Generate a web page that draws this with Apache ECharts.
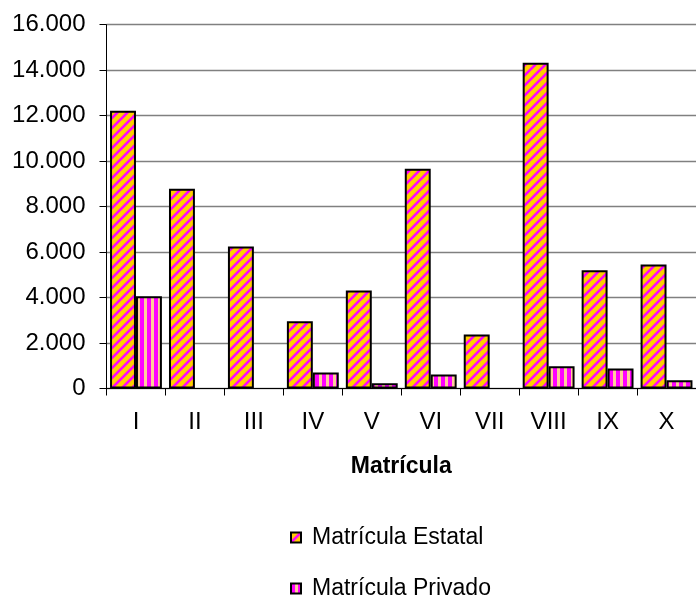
<!DOCTYPE html>
<html>
<head>
<meta charset="utf-8">
<script src="https://cdn.jsdelivr.net/npm/echarts@6/dist/echarts.min.js"></script>
<style>
  html, body { margin: 0; padding: 0; background: #fff; }
  #chart { width: 696px; height: 597px; }
</style>
</head>
<body>
<div id="chart"></div>
<script>
  var categories = ["I", "II", "III", "IV", "V", "VI", "VII", "VIII", "IX", "X"];
  var estatal = [12220, 8790, 6240, 2960, 4310, 9670, 2370, 14330, 5200, 5450];
  var privado = [4060, 0, 0, 700, 230, 620, 0, 980, 880, 360];
  var seriesNames = ["Matrícula Estatal", "Matrícula Privado"];

  var font = "'Liberation Sans', Arial, sans-serif";

  // yellow with magenta diagonal stripes
  function diagPattern() {
    var s = 10;
    var c = document.createElement("canvas");
    c.width = s; c.height = s;
    var g = c.getContext("2d");
    g.fillStyle = "#FFCC00";
    g.fillRect(0, 0, s, s);
    g.strokeStyle = "#FF00FF";
    g.lineWidth = 2.6;
    g.beginPath();
    g.moveTo(-2, s + 2); g.lineTo(s + 2, -2);
    g.moveTo(-2, 2); g.lineTo(2, -2);
    g.moveTo(s - 2, s + 2); g.lineTo(s + 2, s - 2);
    g.stroke();
    return c;
  }

  // magenta / peach vertical stripes
  function vertPattern() {
    var c = document.createElement("canvas");
    c.width = 7; c.height = 4;
    var g = c.getContext("2d");
    g.fillStyle = "#FFCC99";
    g.fillRect(0, 0, 7, 4);
    g.fillStyle = "#FF00FF";
    g.fillRect(0, 0, 4, 4);
    return c;
  }

  function fmt(v) {
    if (v === 0) return "0";
    return Math.floor(v / 1000) + "." + ("00" + (v % 1000)).slice(-3);
  }

  // empty bars are not drawn at all
  function noZero(arr) {
    return arr.map(function (v) { return v === 0 ? "-" : v; });
  }

  function legendAt(name, top) {
    return {
      orient: "vertical",
      left: 285,
      top: top,
      itemWidth: 10,
      itemHeight: 10,
      icon: "rect",
      textStyle: { fontFamily: font, fontSize: 23, color: "#000", padding: [0, 0, 0, 6] },
      data: [name]
    };
  }

  var chart = echarts.init(document.getElementById("chart"));
  var option = {
    backgroundColor: "#fff",
    animation: false,
    textStyle: { fontFamily: font },
    grid: { left: 106.5, right: -2, top: 24.7, bottom: 208.5, containLabel: false },
    legend: [legendAt(seriesNames[0], 521), legendAt(seriesNames[1], 572)],
    xAxis: {
      type: "category",
      data: categories,
      name: "Matrícula",
      nameLocation: "middle",
      nameGap: 67,
      nameTextStyle: { fontFamily: font, fontSize: 23, fontWeight: "bold", color: "#000" },
      axisLine: { show: true, lineStyle: { color: "#000", width: 1 } },
      axisTick: { show: true, length: 7, alignWithLabel: false, lineStyle: { color: "#000" } },
      axisLabel: { fontFamily: font, fontSize: 24, color: "#000", margin: 22, interval: 0 },
      splitLine: { show: false }
    },
    yAxis: {
      type: "value",
      min: 0,
      max: 16000,
      interval: 2000,
      axisLine: { show: true, lineStyle: { color: "#000", width: 1 } },
      axisTick: { show: true, length: 7, lineStyle: { color: "#000" } },
      axisLabel: { fontFamily: font, fontSize: 24, color: "#000", margin: 21, formatter: fmt },
      splitLine: { show: true, lineStyle: { color: "#808080", width: 1.3 } }
    },
    series: [
      {
        name: seriesNames[0],
        type: "bar",
        data: noZero(estatal),
        barGap: "0%",
        barCategoryGap: "12%",
        itemStyle: {
          color: { image: diagPattern(), repeat: "repeat" },
          borderColor: "#000",
          borderWidth: 2
        }
      },
      {
        name: seriesNames[1],
        type: "bar",
        data: noZero(privado),
        barGap: "0%",
        barCategoryGap: "12%",
        itemStyle: {
          color: { image: vertPattern(), repeat: "repeat" },
          borderColor: "#000",
          borderWidth: 2
        }
      }
    ]
  };
  chart.setOption(option);
</script>
</body>
</html>
